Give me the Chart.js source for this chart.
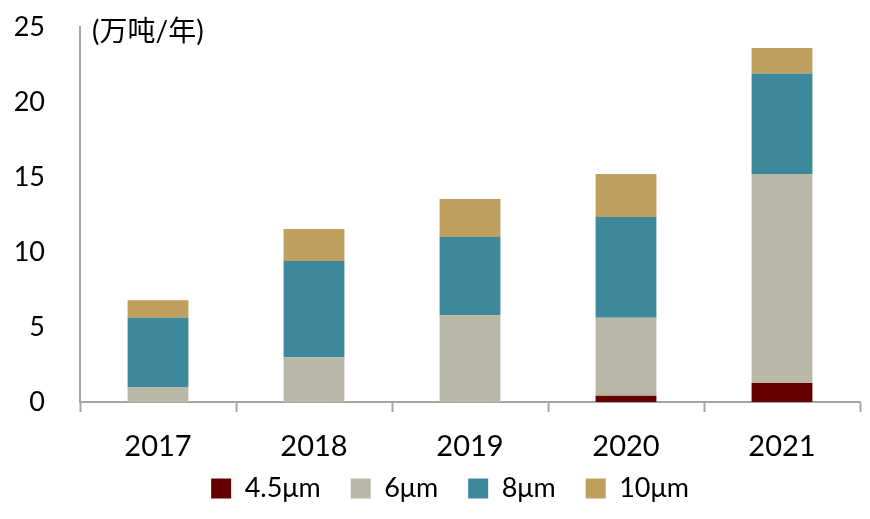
<!DOCTYPE html>
<html>
<head>
<meta charset="utf-8">
<script src="https://cdn.jsdelivr.net/npm/chart.js@4"></script>
<style>
  html, body { margin: 0; padding: 0; background: #fff; }
  #wrap { width: 870px; height: 519px; }
</style>
</head>
<body>
<div id="wrap"><canvas id="Chart"></canvas></div>
<script>
const years = ['2017', '2018', '2019', '2020', '2021'];
const foil45 = [0, 0, 0, 0.42, 1.27];
const foil6 = [1.0, 2.98, 5.78, 5.2, 13.93];
const foil8 = [4.62, 6.42, 5.22, 6.71, 6.7];
const foil10 = [1.16, 2.13, 2.53, 2.87, 1.7];
const unitLabel = '(万吨/年)';

const fontFamily = 'Lato, "Noto Sans CJK SC", sans-serif';

// unit text in the top left of the plot
const unitPlugin = {
    id: 'unitLabel',
    afterLayout(chart) {
        // nudge the legend to sit where the original one is
        chart.legend.left += 40;
        chart.legend.top = 445;
    },
    afterDraw(chart) {
        const ctx = chart.ctx;
        ctx.save();
        ctx.font = '28px ' + fontFamily;
        ctx.fillStyle = '#000';
        ctx.textBaseline = 'middle';
        ctx.fillText(unitLabel, chart.chartArea.left + 12, 32);
        ctx.restore();
    }
};

function makeSet(label, data, color) {
    return {
        label: label,
        data: data,
        backgroundColor: color,
        borderWidth: 0,
        barPercentage: 0.39,
        categoryPercentage: 1
    };
}

const ctx = document.getElementById('Chart').getContext('2d');

const myChart = new Chart(ctx, {
    type: 'bar',
    data: {
        labels: years,
        datasets: [
            makeSet('4.5μm', foil45, '#640000'),
            makeSet('6μm', foil6, '#B9B8A6'),
            makeSet('8μm', foil8, '#3E889C'),
            makeSet('10μm', foil10, '#BE9F5E')
        ]
    },
    options: {
        responsive: true,
        maintainAspectRatio: false,
        animation: false,
        layout: { padding: { top: 27, right: 10, bottom: 0, left: 0 } },
        plugins: {
            tooltip: { enabled: false },
            legend: {
                position: 'bottom',
                maxHeight: 55,
                labels: {
                    boxWidth: 20,
                    boxHeight: 20,
                    padding: 30,
                    color: '#000',
                    font: { size: 27, family: fontFamily }
                }
            }
        },
        scales: {
            x: {
                stacked: true,
                afterFit(scale) { scale.height = 62; },
                grid: {
                    drawOnChartArea: false,
                    drawTicks: true,
                    tickLength: 10,
                    tickWidth: 2,
                    color: '#A6A6A6'
                },
                border: { color: '#A6A6A6', width: 2 },
                ticks: {
                    color: '#000',
                    padding: 17,
                    font: { size: 29, family: fontFamily }
                }
            },
            y: {
                stacked: true,
                min: 0,
                max: 25,
                afterFit(scale) {
                    scale.width = 80;
                    scale.paddingTop = 0;
                    scale.paddingBottom = 0;
                },
                grid: { display: false },
                border: { color: '#A6A6A6', width: 2 },
                ticks: {
                    stepSize: 5,
                    color: '#000',
                    padding: 27,
                    font: { size: 27, family: fontFamily }
                }
            }
        }
    },
    plugins: [unitPlugin]
});
</script>
</body>
</html>
